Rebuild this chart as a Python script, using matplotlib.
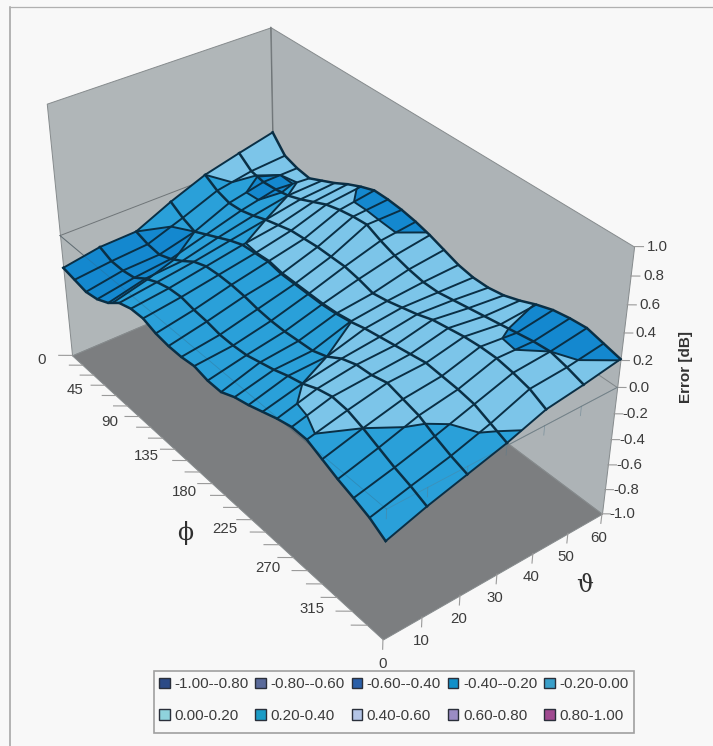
import matplotlib
matplotlib.use("Agg")
import matplotlib.pyplot as plt
from matplotlib.lines import Line2D
from matplotlib.patches import Patch, Rectangle
from mpl_toolkits.mplot3d import proj3d
from mpl_toolkits.mplot3d.art3d import Poly3DCollection, Line3DCollection

plt.rcParams['font.family'] = ['Liberation Sans', 'DejaVu Sans']

phi = list(range(0, 361, 15))
theta = [0, 10, 20, 30, 40, 50, 60]
phi_labels = [0, 45, 90, 135, 180, 225, 270, 315]
theta_labels = [0, 10, 20, 30, 40, 50, 60]
z_labels = ['-1.0', '-0.8', '-0.6', '-0.4', '-0.2', '0.0', '0.2', '0.4', '0.6', '0.8', '1.0']
z_ticks = [-1.0, -0.8, -0.6, -0.4, -0.2, 0.0, 0.2, 0.4, 0.6, 0.8, 1.0]

# one row per theta, one value per phi
err_t0 = [-.26, -.28, -.30, -.28, -.23, -.15, -.115, -.11, -.145, -.16, -.16, -.145, -.17,
          -.17, -.12, -.09, -.05, -.01, .02, .02, -.03, -.08, -.12, -.165, -.235]
err_t10 = [-.21, -.25, -.25, -.23, -.16, -.11, -.08, -.07, -.09, -.1, -.12, -.12, -.11,
           -.08, -.05, -.01, .02, .07, .1, .09, .05, .0, -.05, -.09, -.14]
err_t20 = [-.2, -.23, -.24, -.2, -.14, -.07, -.03, -.02, -.02, -.03, -.05, -.06, -.06,
           -.05, -.04, .0, .07, .11, .12, .15, .12, .09, .03, -.02, -.06]
err_t30 = [-.07, -.13, -.17, -.12, -.07, -.02, .02, .03, .04, .02, .02, .02, .02,
           .03, .05, .08, .1, .12, .14, .16, .15, .14, .12, .07, .02]
err_t40 = [.04, -.02, -.05, -.04, -.01, .03, .06, .09, .1, .11, .11, .11, .09,
           .06, .08, .11, .14, .18, .2, .22, .23, .23, .21, .18, .12]
err_t50 = [.11, .03, .01, .02, .04, .08, .13, .18, .21, .23, .24, .19, .15,
           .12, .1, .1, .12, .14, .16, .18, .2, .22, .23, .2, .16]
err_t60 = [.175, .05, .015, .0, .05, .1, .16, .21, .25, .25, .24, .22, .19,
           .15, .11, .09, .09, .11, .15, .2, .24, .26, .27, .24, .21]
errors = [err_t0, err_t10, err_t20, err_t30, err_t40, err_t50, err_t60]

# band: above 0 is the pale band
band_t0 = [-1] * 17 + [-1, -.6, -.25, -1, -1, -1, -1, -1]
band_t10 = [-1] * 16 + [0, 1, 1, 1, 0, -.7, -1, -1, -1]
band_t20 = [-1] * 15 + [0, .7, 1, 1, 1, 1, .4, -.6, -1, -1]
band_t30 = [-1, -1, -1, -.6, -.4, -.7, -.1, -.03, -.03, -.03, -.03, -.03, -.03, -.03, -.03,
            .5, 1, 1, 1, 1, 1, 1, 1, .4, -.6]
band_t40 = [0, -.3, -1, -1, -.8, 0, 1, 1, 1, 1, 1, 1, 1, 1, 1, 1, 1, 1, 1, 1, .75, 1, 1, 1, 1]
band_t50 = [1, .4, -.6, -1, 0, 1, 1, .7, .7, .6, .5, .6, 1, 1, 1, 1, 1, 1, 1, .5, -.5, -1, 0, .3, 1]
band_t60 = [1, 1, .6, .6, .6, 1, .9, -.1, -1, -1, -1, -.8, .2, 1, 1, 1, 1, 1, .9, -.1, -1, -1, -1, -.7, -.05]
bands = [band_t0, band_t10, band_t20, band_t30, band_t40, band_t50, band_t60]

# above 0 is the darker blue
deep_t0 = [1, 1, 1, 1, .4, -.6] + [-1] * 19
deep_t10 = [1, 1, 1, 1, .2, -.8] + [-1] * 19
deep_t20 = [0, 1, 1, .3, -.7] + [-1] * 20
deep_t30 = [-1, -.5, 0] + [-1] * 22
deep_t40 = [-1] * 19 + [1, 1, 1, 1, -1, -1]
deep_t50 = [-1, -1, 1, 1, -1, -1, -1, 1, 1, 1, 1, 1, -1, -1, -1, -1, -1, -1, 1, 1, 1, 1, 1, 1, 1]
deep_t60 = [-1, -1, -1, -1, -1, -1, 1, 1, 1, 1, 1, 1, 1, -1, -1, -1, -1, -1, 1, 1, 1, 1, 1, 1, 1]
deeps = [deep_t0, deep_t10, deep_t20, deep_t30, deep_t40, deep_t50, deep_t60]

legend_labels = ['-1.00--0.80', '-0.80--0.60', '-0.60--0.40', '-0.40--0.20', '-0.20-0.00',
                 '0.00-0.20', '0.20-0.40', '0.40-0.60', '0.60-0.80', '0.80-1.00']
legend_colors = ['#2b4a86', '#5a6a9a', '#2a5fa8', '#1290c9', '#3a9fc9',
                 '#8fd3dc', '#1b9cc6', '#b4c5e6', '#9a8cc4', '#a04a90']

LIGHT = '#7cc5e9'
MID = '#2aa0d9'
DARK = '#1488cf'
WIRE = '#0a2f45'
BG = '#f8f8f8'


def split(points, key):
    # cut a polygon where points[..][key] changes sign
    pos, neg, cuts = [], [], []
    n = len(points)
    for k in range(n):
        a, b = points[k], points[(k + 1) % n]
        fa, fb = a[key], b[key]
        (pos if fa >= 0 else neg).append(a)
        if (fa >= 0) != (fb >= 0):
            t = fa / (fa - fb)
            c = tuple(a[m] + t * (b[m] - a[m]) for m in range(len(a)))
            pos.append(c)
            neg.append(c)
            cuts.append(c[:3])
    return pos, neg, cuts


def add_cuts(segments, cuts):
    for k in range(0, len(cuts) - 1, 2):
        segments.append([cuts[k], cuts[k + 1]])


def label3d(x, y, z, s):
    # place flat text at the screen position of a 3d point
    u, v, _ = proj3d.proj_transform(x, y, z, ax.get_proj())
    ax.text2D(u, v, s, transform=ax.transData, ha='center', va='center',
              fontsize=10.8, color=txt_col)


fig = plt.figure(figsize=(7.13, 7.46), dpi=100, facecolor=BG)
w = 670.7
cx, cy = 322, 307
ax = fig.add_axes([(cx - 0.5135 * w) / 713, (746 - cy - 0.5135 * w) / 746, w / 713, w / 746],
                  projection='3d', proj_type='persp', focal_length=0.495, computed_zorder=False)
ax.set_box_aspect((546, 280, 317))
ax.view_init(elev=35.3, azim=-37.6)
ax.set_xlim(0, 360, view_margin=0)
ax.set_ylim(0, 60, view_margin=0)
ax.set_zlim(-1, 1, view_margin=0)
ax.set_axis_off()
ax.patch.set_alpha(0)

# walls and floor
walls = [
    ([(0, 0, -1), (0, 60, -1), (0, 60, 1), (0, 0, 1)], '#b0b6b8'),
    ([(0, 60, -1), (360, 60, -1), (360, 60, 1), (0, 60, 1)], '#adb3b6'),
    ([(0, 0, -1), (360, 0, -1), (360, 60, -1), (0, 60, -1)], '#7c7e80'),
]
for verts, col in walls:
    ax.add_collection3d(Poly3DCollection([verts], facecolors=col, edgecolors='#868b8d',
                                         linewidths=0.7, zorder=1))
ax.plot([0, 0], [60, 60], [-1, 1], color='#6f7578', lw=0.8, zorder=1.1)
ax.plot([0, 0], [0, 60], [0, 0], color='#6f7578', lw=0.7, zorder=1.1)
ax.plot([0, 360], [60, 60], [0, 0], color='#7f8588', lw=0.7, zorder=1.1)
ax.plot([0, 360], [0, 0], [0, 0], color='#6f7578', lw=0.7, zorder=1.1)
ax.plot([360, 360], [0, 60], [0, 0], color='#7f8588', lw=0.7, zorder=1.1)

# surface, cut into colour bands
light_polys, mid_polys, dark_polys, outline = [], [], [], []
for j in range(len(theta) - 1):
    for i in range(len(phi) - 1):
        quad = []
        for jj, ii in [(j, i), (j, i + 1), (j + 1, i + 1), (j + 1, i)]:
            quad.append((phi[ii], theta[jj], errors[jj][ii], bands[jj][ii], deeps[jj][ii]))
        pale, rest, cuts = split(quad, 3)
        add_cuts(outline, cuts)
        if len(pale) > 2:
            light_polys.append([p[:3] for p in pale])
        if len(rest) > 2:
            dark, mid, cuts = split(rest, 4)
            add_cuts(outline, cuts)
            if len(dark) > 2:
                dark_polys.append([p[:3] for p in dark])
            if len(mid) > 2:
                mid_polys.append([p[:3] for p in mid])

for polys, col in [(mid_polys, MID), (dark_polys, DARK), (light_polys, LIGHT)]:
    ax.add_collection3d(Poly3DCollection(polys, facecolors=col, edgecolors=col,
                                         linewidths=0.3, zorder=2))

# faint axes showing through the surface
ax.plot([0, 360], [0, 0], [0, 0], color='#3d5a6a', lw=0.6, alpha=0.3, zorder=2.5)
ax.plot([360, 360], [0, 60], [0, 0], color='#5a7a8a', lw=0.6, alpha=0.4, zorder=2.5)
for t in theta[:-1]:
    ax.plot([360, 360], [t, t], [0, -0.07], color='#5a7a8a', lw=0.6, alpha=0.5, zorder=2.5)

ax.add_collection3d(Line3DCollection(outline, colors=WIRE, linewidths=1.4, zorder=3))
for j in range(len(theta)):
    ax.plot(phi, [theta[j]] * len(phi), errors[j], color=WIRE, lw=1.8, zorder=3.2)
for i in range(len(phi)):
    ax.plot([phi[i]] * len(theta), theta, [errors[j][i] for j in range(len(theta))],
            color=WIRE, lw=1.4, zorder=3.1)

# ticks and tick labels
tick_col = '#9a9a9a'
txt_col = '#3c3c3c'
for p in phi[:-1]:
    ax.plot([p, p - 6], [0, -2.5], [-1, -1], color=tick_col, lw=0.8, zorder=1)
for p in phi_labels:
    label3d(p * 1.025 - 9, -6.5 + p / 630, -1, str(p))
for t in theta:
    ax.plot([360, 360], [t, t], [-1, -1.08], color=tick_col, lw=0.8, zorder=1)
for t in theta_labels:
    label3d(360, t, -1.2, str(t))
for z, lab in zip(z_ticks, z_labels):
    ax.plot([360, 363.4], [60, 61.4], [z, z], color=tick_col, lw=0.8, zorder=1)
    label3d(368.5, 63.4, z, lab)

fig.text(185 / 713, 1 - 533 / 746, '\u03d5', fontsize=17, ha='center', va='center',
         family='DejaVu Serif', color='#303030')
fig.text(585 / 713, 1 - 586 / 746, '\u03d1', fontsize=17, ha='center', va='center',
         family='DejaVu Serif', color='#303030')
fig.text(686 / 713, 1 - 367 / 746, 'Error [dB]', rotation=90, fontsize=11, fontweight='bold',
         ha='center', va='center', color='#333333')

# legend fills by column, the reference reads by row
fig.add_artist(Rectangle((154 / 713, 1 - 733 / 746), 480 / 713, 62 / 746, transform=fig.transFigure,
                         facecolor=BG, edgecolor='#a0a0a0', lw=1.2))
order = [0, 5, 1, 6, 2, 7, 3, 8, 4, 9]
handles = [Patch(facecolor=legend_colors[k], edgecolor='#2a2f3a', linewidth=1.0,
                 label=legend_labels[k]) for k in order]
leg = fig.legend(handles=handles, ncol=5, loc='lower left',
                 bbox_to_anchor=(159 / 713, 1 - 723 / 746), borderaxespad=0, borderpad=0,
                 frameon=False, fontsize=11, handlelength=0.7, handleheight=0.7,
                 handletextpad=0.3, columnspacing=0.44, labelspacing=1.16, labelcolor=txt_col)

# outer frame of the scan
fig.add_artist(Line2D([10 / 713, 10 / 713], [1 - 7 / 746, 0], color='#a0a0a0', lw=1.1))
fig.add_artist(Line2D([10 / 713, 1], [1 - 7 / 746, 1 - 7 / 746], color='#b0b0b0', lw=0.9))

fig.savefig('out.png', dpi=100, facecolor=BG)
